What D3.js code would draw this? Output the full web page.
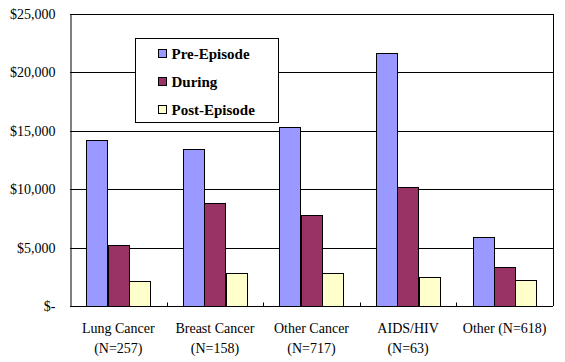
<!DOCTYPE html>
<html>
<head>
<meta charset="utf-8">
<script src="https://cdn.jsdelivr.net/npm/d3@7"></script>
<style>
  body { margin: 0; background: #fff; }
  text { font-family: "Liberation Serif", "Times New Roman", serif; fill: #000; }
</style>
</head>
<body>
<div id="chart"></div>
<script>
// categories and series
const categories = [
  ['Lung Cancer', '(N=257)'],
  ['Breast Cancer', '(N=158)'],
  ['Other Cancer', '(N=717)'],
  ['AIDS/HIV', '(N=63)'],
  ['Other (N=618)']
];
const seriesNames = ['Pre-Episode', 'During', 'Post-Episode'];
const preEpisode = [14200, 13400, 15300, 21650, 5900];
const during = [5200, 8800, 7800, 10150, 3300];
const postEpisode = [2150, 2800, 2800, 2450, 2200];
const yTicks = [0, 5000, 10000, 15000, 20000, 25000];
const colors = ['#9999ff', '#993366', '#ffffcc'];

const width = 565;
const height = 362;
const margin = {left: 70, right: 12, top: 14, bottom: 56};
const fontSize = 14;
const legendFontSize = 15;

const svg = d3.select('#chart').append('svg')
  .attr('width', width)
  .attr('height', height);

const x = d3.scaleBand()
  .domain(d3.range(categories.length))
  .range([margin.left, width - margin.right]);

const inner = d3.scaleBand()
  .domain(d3.range(seriesNames.length))
  .range([0, x.bandwidth()])
  .paddingOuter(0.75);

const y = d3.scaleLinear()
  .domain([0, 25000])
  .range([height - margin.bottom, margin.top]);

const values = [preEpisode, during, postEpisode];

// gridlines
svg.append('g')
  .selectAll('line')
  .data(yTicks.slice(1))
  .join('line')
  .attr('x1', margin.left)
  .attr('x2', width - margin.right)
  .attr('y1', d => Math.round(y(d)) + 0.5)
  .attr('y2', d => Math.round(y(d)) + 0.5)
  .attr('stroke', '#000');

// plot frame (right edge)
svg.append('line')
  .attr('x1', width - margin.right + 0.5)
  .attr('x2', width - margin.right + 0.5)
  .attr('y1', Math.round(y(25000)))
  .attr('y2', Math.round(y(0)))
  .attr('stroke', '#000');

// bars
const groups = svg.append('g')
  .selectAll('g')
  .data(values)
  .join('g')
  .attr('fill', (d, i) => colors[i]);

groups.each(function(series, s) {
  d3.select(this).selectAll('rect')
    .data(series)
    .join('rect')
    .attr('x', (d, i) => Math.round(x(i) + inner(s)) + 0.5)
    .attr('y', d => Math.round(y(d)) + 0.5)
    .attr('width', Math.round(inner.bandwidth()))
    .attr('height', d => Math.round(y(0)) - Math.round(y(d)))
    .attr('stroke', '#000');
});

// y axis
const yAxis = svg.append('g')
  .attr('transform', 'translate(' + (margin.left + 0.5) + ',0)')
  .call(d3.axisLeft(y)
    .tickValues(yTicks)
    .tickSize(0)
    .tickPadding(15)
    .tickFormat(d => d === 0 ? '$-' : '$' + d3.format(',')(d)));
yAxis.select('.domain').attr('stroke', '#000');
yAxis.selectAll('text')
  .style('font-size', fontSize + 'px')
  .style('font-family', '"Liberation Serif", serif');

// x axis
const xAxis = svg.append('g')
  .attr('transform', 'translate(0,' + (Math.round(y(0)) + 0.5) + ')');
xAxis.append('line')
  .attr('x1', margin.left)
  .attr('x2', width - margin.right)
  .attr('stroke', '#000');
xAxis.selectAll('.tick')
  .data(d3.range(1, categories.length))
  .join('line')
  .attr('class', 'tick')
  .attr('x1', d => Math.round(x(d)) + 0.5)
  .attr('x2', d => Math.round(x(d)) + 0.5)
  .attr('y1', 0)
  .attr('y2', -4)
  .attr('stroke', '#000');

const labels = xAxis.selectAll('text')
  .data(categories)
  .join('text')
  .attr('text-anchor', 'middle')
  .style('font-size', fontSize + 'px');
labels.each(function(lines, i) {
  d3.select(this).selectAll('tspan')
    .data(lines)
    .join('tspan')
    .attr('x', x(i) + x.bandwidth() / 2)
    .attr('y', (d, j) => 26 + j * 20)
    .text(d => d);
});

// legend
const legend = svg.append('g')
  .attr('transform', 'translate(135.5,38.5)');
legend.append('rect')
  .attr('width', 143)
  .attr('height', 84)
  .attr('fill', '#fff')
  .attr('stroke', '#000');

const items = legend.selectAll('g.item')
  .data(seriesNames)
  .join('g')
  .attr('class', 'item')
  .attr('transform', (d, i) => 'translate(23,' + (15 + i * 28) + ')');
items.append('rect')
  .attr('x', 0)
  .attr('y', -4)
  .attr('width', 8)
  .attr('height', 8)
  .attr('fill', (d, i) => colors[i])
  .attr('stroke', '#000');
items.append('text')
  .attr('x', 13)
  .attr('dy', '0.35em')
  .style('font-size', legendFontSize + 'px')
  .style('font-weight', 'bold')
  .text(d => d);
</script>
</body>
</html>
